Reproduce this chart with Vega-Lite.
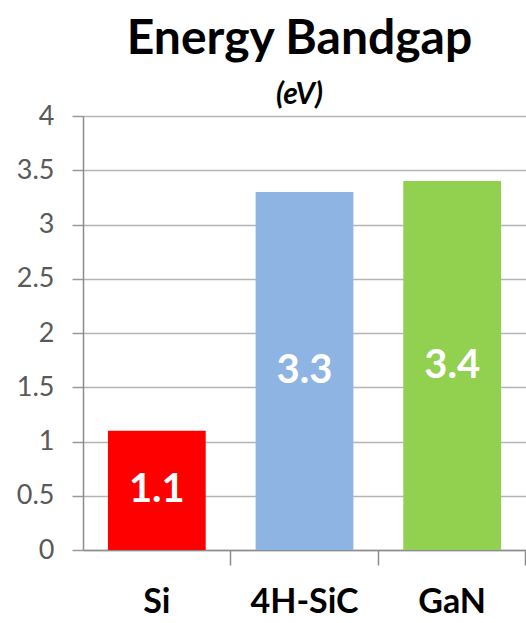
{
  "$schema": "https://vega.github.io/schema/vega-lite/v6.json",
  "width": 443,
  "height": 434,
  "autosize": {"type": "none"},
  "padding": {"left": 83, "top": 116, "right": 0, "bottom": 73},
  "background": "white",
  "title": {
    "text": "Energy Bandgap",
    "subtitle": "(eV)",
    "font": "Lato",
    "fontSize": 48,
    "fontWeight": "bold",
    "color": "black",
    "subtitleFont": "Lato",
    "subtitleFontSize": 30,
    "subtitleFontWeight": "bold",
    "subtitleFontStyle": "italic",
    "subtitleColor": "black",
    "anchor": "middle",
    "offset": -8,
    "subtitlePadding": 16,
    "dx": -5
  },
  "data": {
    "values": [
      {"material": "Si", "bandgap": 1.1},
      {"material": "4H-SiC", "bandgap": 3.3},
      {"material": "GaN", "bandgap": 3.4}
    ]
  },
  "encoding": {
    "x": {
      "field": "material",
      "type": "nominal",
      "sort": null,
      "scale": {"paddingInner": 0.338, "paddingOuter": 0.169},
      "axis": {
        "title": null,
        "labelAngle": 0,
        "labelFont": "Lato",
        "labelFontSize": 34,
        "labelFontWeight": "bold",
        "labelColor": "black",
        "labelPadding": 20,
        "bandPosition": 1.255,
        "tickSize": 15,
        "tickColor": "#8c8c8c",
        "domainColor": "#8c8c8c",
        "domainWidth": 1.5,
        "tickWidth": 1.5
      }
    }
  },
  "layer": [
    {
      "mark": {"type": "bar"},
      "encoding": {
        "y": {
          "field": "bandgap",
          "type": "quantitative",
          "scale": {"domain": [0, 4]},
          "axis": {
            "title": null,
            "values": [0, 0.5, 1, 1.5, 2, 2.5, 3, 3.5, 4],
            "labelExpr": "'' + datum.value",
            "grid": true,
            "gridColor": "#b5b5b5",
            "gridWidth": 1.5,
            "tickSize": 11,
            "tickWidth": 1.5,
            "tickColor": "#9a9a9a",
            "domainColor": "#8c8c8c",
            "domainWidth": 1.5,
            "labelFont": "Lato",
            "labelFontSize": 27,
            "labelColor": "#595959",
            "labelPadding": 18
          }
        },
        "color": {
          "field": "material",
          "type": "nominal",
          "scale": {"domain": ["Si", "4H-SiC", "GaN"], "range": ["#ff0000", "#8eb4e3", "#92d050"]},
          "legend": null
        }
      }
    },
    {
      "transform": [{"calculate": "datum.bandgap / 2", "as": "mid"}],
      "mark": {"type": "text", "font": "Lato", "fontSize": 40, "fontWeight": "bold", "color": "white", "baseline": "middle", "align": "center"},
      "encoding": {
        "y": {"field": "mid", "type": "quantitative"},
        "text": {"field": "bandgap", "type": "quantitative", "format": ".1f"}
      }
    }
  ],
  "config": {"view": {"stroke": null}}
}
